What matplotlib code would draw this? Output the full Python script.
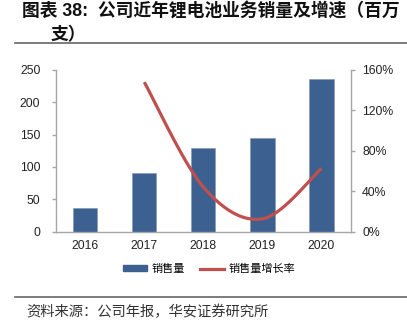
import numpy as np
import matplotlib
matplotlib.use("Agg")
import matplotlib.pyplot as plt
from matplotlib.lines import Line2D
from matplotlib.patches import Patch

plt.rcParams['font.family'] = ['Liberation Sans', 'Noto Sans CJK SC', 'DejaVu Sans']

years = ['2016', '2017', '2018', '2019', '2020']
sales = [36.5, 90.5, 128.5, 145.5, 236.5]
growth_years = ['2017', '2018', '2019', '2020']
growth = [1.48, 0.44, 0.125, 0.625]
left_ticks = [0, 50, 100, 150, 200, 250]
right_ticks = [0, 0.4, 0.8, 1.2, 1.6]
right_labels = ['0%', '40%', '80%', '120%', '160%']

BAR = '#3C6090'
RED = '#C0504D'
GREY = '#A6A6A6'

W, H = 407, 327
fig = plt.figure(figsize=(W / 100, H / 100), dpi=100)

ax = fig.add_axes([55.7 / W, 1 - 231.5 / H, (351 - 55.7) / W, (231.5 - 70) / H])
x = np.arange(len(years))
ax.bar(x, sales, width=0.41, color=BAR, edgecolor='#7F95B3', linewidth=0.4, zorder=2)
ax.set_xlim(-0.5, len(years) - 0.5)
ax.set_ylim(0, 250)
ax.set_yticks(left_ticks)
ax.set_xticks(x)
ax.set_xticklabels(years)
for s in ['top', 'right']:
    ax.spines[s].set_visible(False)
for s in ['left', 'bottom']:
    ax.spines[s].set_color(GREY)
    ax.spines[s].set_linewidth(1.0)
ax.tick_params(axis='y', length=3, width=1.0, color=GREY, labelsize=8.8, pad=8, labelcolor='#222222')
ax.tick_params(axis='x', length=0, labelsize=8.8, pad=6, labelcolor='#222222')

ax2 = ax.twinx()
ax2.set_ylim(0, 1.6)
ax2.set_yticks(right_ticks)
ax2.set_yticklabels(right_labels)
for s in ['top', 'left', 'bottom']:
    ax2.spines[s].set_visible(False)
ax2.spines['right'].set_color(GREY)
ax2.spines['right'].set_linewidth(1.0)
ax2.tick_params(axis='y', length=3, width=1.0, color=GREY, labelsize=8.8, pad=5, labelcolor='#222222')

# Excel-style smoothed line (Bezier through points)
gx = np.array([years.index(y) for y in growth_years], dtype=float)
gy = np.array(growth)
P = np.column_stack([gx, gy])
Pext = np.vstack([P[0], P, P[-1]])
curve = []
t = np.linspace(0, 1, 60)[:, None]
for i in range(len(P) - 1):
    p0 = Pext[i + 1]
    p3 = Pext[i + 2]
    c1 = p0 + (Pext[i + 2] - Pext[i]) / 6
    c2 = p3 - (Pext[i + 3] - Pext[i + 1]) / 6
    seg = (1 - t) ** 3 * p0 + 3 * (1 - t) ** 2 * t * c1 + 3 * (1 - t) * t ** 2 * c2 + t ** 3 * p3
    curve.append(seg)
curve = np.vstack(curve)
ax2.plot(curve[:, 0], curve[:, 1], color=RED, linewidth=2.3, solid_capstyle='butt', zorder=3)

# Title
title_font = ['Liberation Sans', 'Noto Sans CJK SC']
fig.text(22 / W, 1 - 11 / H, '图表 38:  公司近年锂电池业务销量及增速（百万', fontsize=12.8,
         fontweight='bold', family=title_font, va='center', ha='left', color='#111111')
fig.text(51 / W, 1 - 35.5 / H, '支）', fontsize=12.8, fontweight='bold',
         family=title_font, va='center', ha='left', color='#111111')
fig.add_artist(Line2D([15 / W, 1], [1 - 43 / H, 1 - 43 / H], color='#666666', linewidth=1.2,
                      transform=fig.transFigure))

# Legend
handles = [Patch(facecolor=BAR, edgecolor=BAR), Line2D([0], [0], color=RED, linewidth=2.3)]
fig.legend(handles, ['销售量', '销售量增长率'], loc='center', bbox_to_anchor=(209 / W, 1 - 269 / H),
           ncol=2, frameon=False, fontsize=8, handlelength=2.2, handleheight=0.45,
           columnspacing=1.3, handletextpad=0.4, prop={'family': ['Noto Sans CJK SC'], 'size': 8})

# Source
fig.add_artist(Line2D([15 / W, 1], [1 - 297 / H, 1 - 297 / H], color='#666666', linewidth=1.2,
                      transform=fig.transFigure))
fig.text(26 / W, 1 - 312 / H, '资料来源：公司年报，华安证券研究所', fontsize=10.3,
         family=['Noto Sans CJK SC'], va='center', ha='left', color='#333333')

fig.savefig('out.png', dpi=100)
